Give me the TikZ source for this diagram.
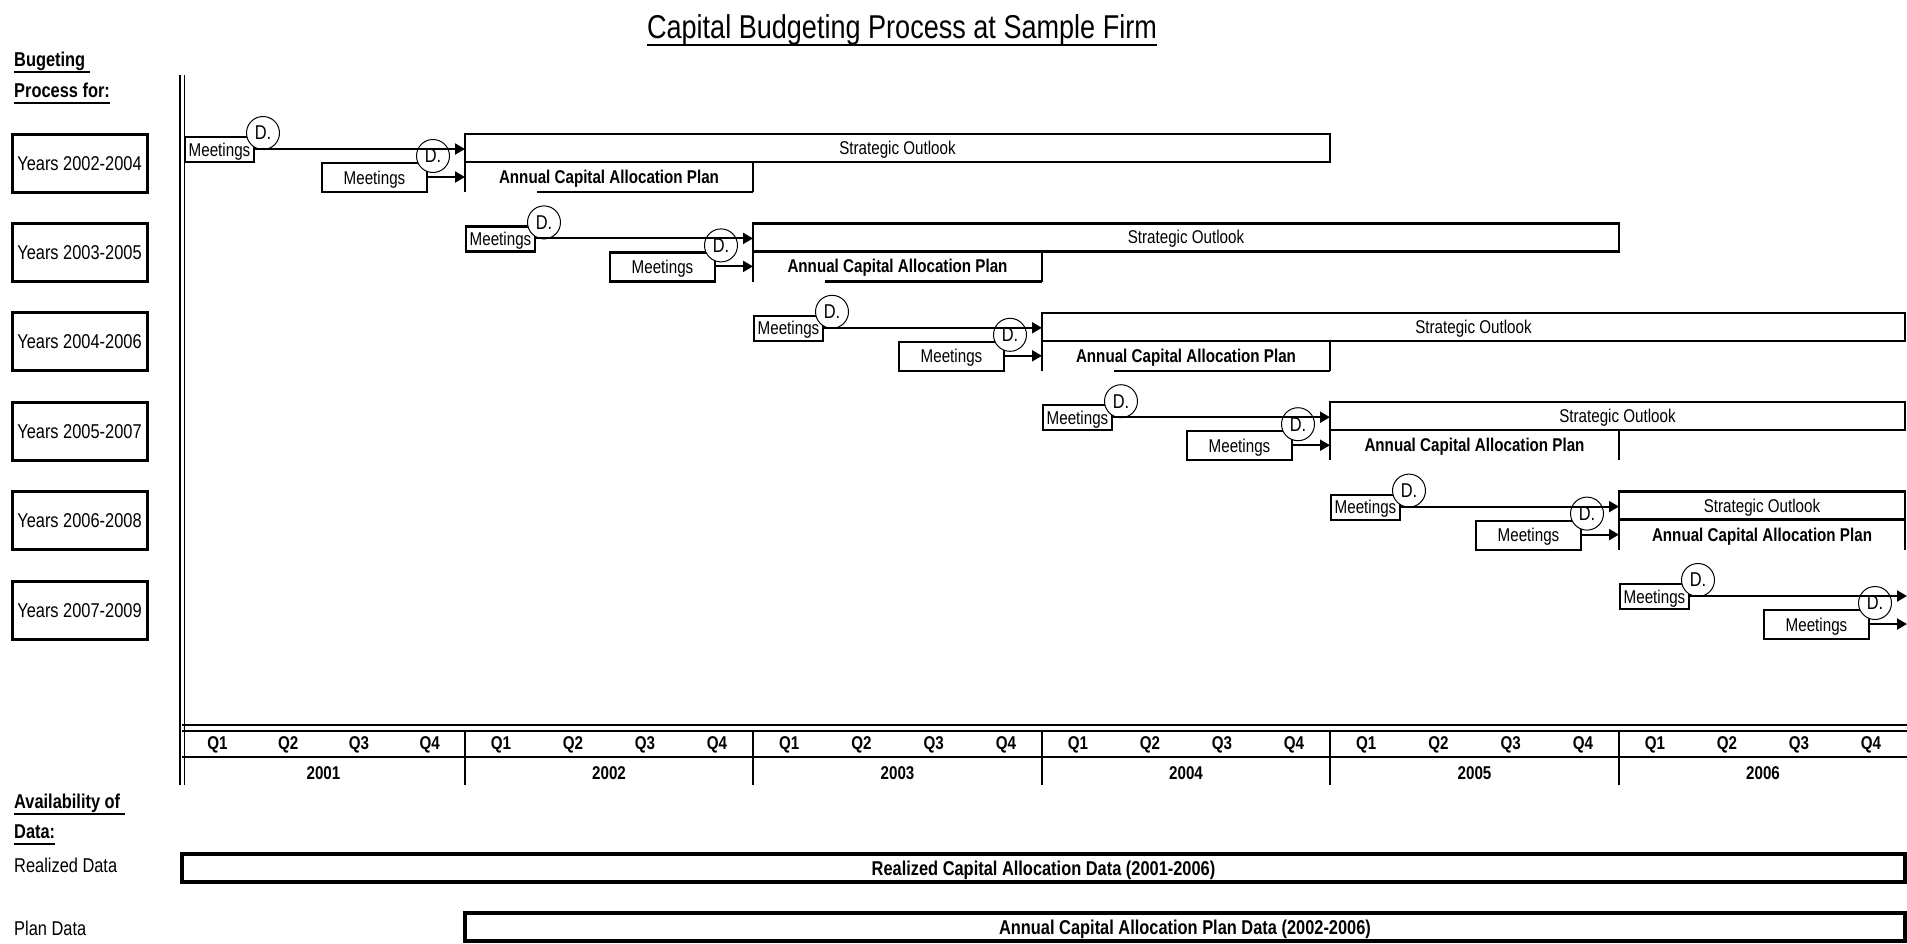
\documentclass[tikz,border=0pt]{standalone}
\usepackage{fontspec}
\setmainfont{Liberation Sans}[FakeStretch=0.82]
\usetikzlibrary{arrows.meta}
\newcommand\fsA{\fontsize{18.5pt}{21pt}\selectfont}
\newcommand\fsB{\fontsize{20pt}{23pt}\selectfont}
\newcommand\fsT{\fontsize{33pt}{38pt}\selectfont}
\newcommand\ulx[3]{\setbox0\hbox{#3}\rlap{\rule[-#1]{\wd0}{#2}}\box0}
\begin{document}
\begin{tikzpicture}[x=1pt,y=-1pt,
  lowtext/.style={text height=14pt,text depth=1pt},
  mbox/.style={draw,line width=2.2pt,inner sep=0pt,font=\fsA,lowtext},
  dcirc/.style={circle,draw,fill=white,line width=1pt,minimum size=33pt,inner sep=0pt,font=\fsB},
  arr/.style={line width=2pt,-{Triangle[length=10pt,width=11pt]}},
  sobox/.style={draw,line width=2.5pt,inner sep=0pt,font=\fsA,lowtext},
  acbox/.style={inner sep=0pt,font=\fsA\bfseries,lowtext},
  yrbox/.style={draw,line width=3pt,inner sep=0pt,font=\fsB,minimum width=135pt,minimum height=58pt,text height=15pt,text depth=1pt},
  qlab/.style={font=\fsA\bfseries,inner sep=0pt},
  grid/.style={line width=2pt},
  lab/.style={font=\fsB,anchor=base west,inner sep=0pt},
  blab/.style={font=\fsB\bfseries,anchor=base west,inner sep=0pt},
  databox/.style={draw,line width=3.5pt,inner sep=0pt,font=\fsB\bfseries,minimum height=28pt,text height=15pt,text depth=1pt}]
\useasboundingbox (0,0) rectangle (1907,943);
% title and side labels
\node[font=\fsT,anchor=base,inner sep=0pt] (title) at (902,38) {\ulx{8pt}{2.5pt}{Capital Budgeting Process at Sample Firm}};
\node[blab] (l1) at (14,66) {\ulx{6.5pt}{2pt}{Bugeting\ }};
\node[blab] (l2) at (14,97) {\ulx{6.5pt}{2pt}{Process for:}};
\node[blab] (l3) at (14,808) {\ulx{6.5pt}{2pt}{Availability of\ }};
\node[blab] (l4) at (14,838) {\ulx{6.5pt}{2pt}{Data:}};
\node[lab] (l5) at (14,872) {Realized Data};
\node[lab] (l6) at (14,935) {Plan Data};
% left double line
\draw[line width=1.6pt] (180,75) -- (180,785);
\draw[line width=1.6pt] (184.5,75) -- (184.5,785);
% rows
\foreach \r/\L/\S/\soe/\ace/\yrs in {0/185/465/1330/753/2002-2004,1/466/753/1619/1042/2003-2005,2/754/1042/1905/1330/2004-2006,3/1043/1330/1905/1619/2005-2007,4/1331/1619/1905/1905/2006-2008,5/1620/1907/0/0/2007-2009}{
  \pgfmathsetmacro\dy{89.4*\r}
  \node[yrbox] (yb\r) at (79.5,163+\dy) {Years \yrs};
  \node[mbox,minimum width=69pt,minimum height=25pt] (ma\r) at (\L+34.5,149.5+\dy) {Meetings};
  \node[mbox,minimum width=105pt,minimum height=29pt] (mb\r) at (\S-90.5,177.5+\dy) {Meetings};
  \node[dcirc] (da\r) at (\L+78,133+\dy) {D.};
  \node[dcirc] (db\r) at (\S-32,156+\dy) {D.};
  \coordinate (ea\r) at (\S,149+\dy);
  \coordinate (eb\r) at (\S,177+\dy);
  \draw[arr] (ma\r.east |- ea\r) -- (ea\r);
  \draw[arr] (mb\r.east |- eb\r) -- (eb\r);
  \ifnum\r<5
    \pgfmathsetmacro\sow{\soe-\S}
    \pgfmathsetmacro\acw{\ace-\S}
    \node[sobox,minimum width=\sow pt,minimum height=28pt] (so\r) at ({(\S+\soe)/2},148+\dy) {Strategic Outlook};
    \node[acbox,minimum width=\acw pt,minimum height=30pt] (ac\r) at ({(\S+\ace)/2},177+\dy) {Annual Capital Allocation Plan};
    \draw[line width=2.5pt] (ac\r.north west) -- (ac\r.south west);
    \draw[line width=2.5pt] (ac\r.north east) -- (ac\r.south east);
    \ifnum\r<3 \draw[line width=2.5pt] (ac\r.south east) -- ([xshift=72pt]ac\r.south west);\fi
  \fi
}
% time axis
\draw[grid] (182,725) -- (1907,725);
\draw[grid] (182,731) -- (1907,731);
\draw[grid] (182,757) -- (1907,757);
\foreach \a/\b/\yr in {182/465/2001,465/753/2002,753/1042/2003,1042/1330/2004,1330/1619/2005,1619/1907/2006}{
  \foreach \q in {1,...,4}{\node[qlab] (q\yr\q) at ({\a+(\b-\a)*(\q-0.5)/4},745) {Q\q};}
  \node[qlab] (y\yr) at ({(\a+\b)/2},773) {\yr};
  \ifnum\b<1900 \draw[grid] (\b,731) -- (\b,785);\fi
}
% data availability
\node[databox,minimum width=1723pt] (rd) at (1043.5,868) {Realized Capital Allocation Data (2001-2006)};
\node[databox,minimum width=1440pt] (pd) at (1185,927) {Annual Capital Allocation Plan Data (2002-2006)};
\end{tikzpicture}
\end{document}
